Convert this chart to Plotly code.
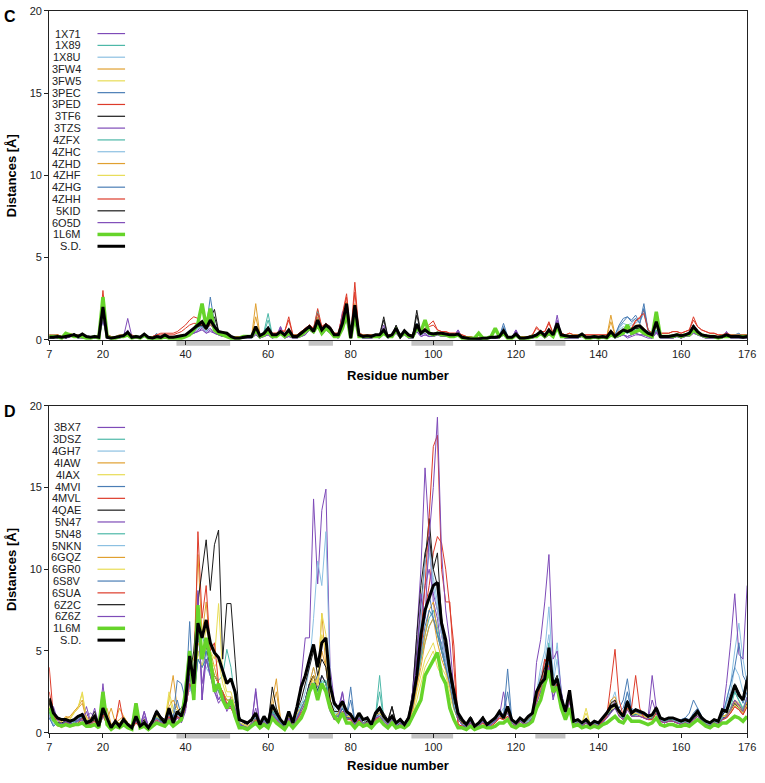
import plotly.graph_objects as go

W, H = 765, 783
residues = list(range(7, 177))
x_ticks = [7, 20, 40, 60, 80, 100, 120, 140, 160, 176]
y_ticks = [0, 5, 10, 15, 20]
sse_regions = [(37.8, 50.8), (69.8, 75.7), (94.7, 104.8), (124.7, 132.0)]

c_names = ["1X71", "1X89", "1X8U", "3FW4", "3FW5", "3PEC", "3PED", "3TF6", "3TZS",
           "4ZFX", "4ZHC", "4ZHD", "4ZHF", "4ZHG", "4ZHH", "5KID", "6O5D"]
d_names = ["3BX7", "3DSZ", "4GH7", "4IAW", "4IAX", "4MVI", "4MVL", "4QAE", "5N47",
           "5N48", "5NKN", "6GQZ", "6GR0", "6S8V", "6SUA", "6Z2C", "6Z6Z"]
palette = ["#7E4BB8", "#4DB8A8", "#8CC0E2", "#E0A030", "#E8DC55", "#4A7DB5", "#DD3B2A", "#1a1a1a"]

# ---------------- Panel C (values in Å, residues 7..176) ----------------
c_1X71 = [.1,.15,.1,.2,.1,.15,.3,.2,.1,.15, .1,.1,.1,1.4,.1,.1,.1,.15,.2,1.3, .2,.1,.1,.3,.1,.1,.2,.1,.1,.1,
          .1,.1,.1,.2,.3,.4,.6,.8,.5,.7, .4,.3,.2,.2,.1,.1,.1,.1,.1,.1, .3,.1,.2,.3,.1,.2,.8,.1,.2,.1,
          .1,.2,.3,.6,.4,.9,.3,.6,.4,.2, .1,.6,1.2,.1,1.1,.2,.1,.1,.1,.2, .1,.4,.1,.2,.4,.1,.3,.1,.1,.5,
          .2,.3,.2,.2,.3,.2,.2,.2,.2,.6, .1,.1,0,0,0,.1,.1,.1,.1,.1, .3,.1,.1,.6,.1,.1,.1,.1,.2,.3,
          .1,.3,.2,.8,.2,.1,.1,.1,.1,.2, .1,.1,.1,.1,.1,.1,.3,.1,.2,.3, .2,.3,.4,.3,.3,.2,.1,.5,.1,.1,
          .1,.1,.2,.1,.2,.2,.4,.3,.2,.1, .1,.1,.1,.1,.5,.1,.1,.1,.1,.1]
c_1X89 = [.2,.1,.2,.1,.2,.3,.2,.1,.2,.1, .1,.2,.1,1.2,.2,.1,.1,.1,.2,.3, .1,.2,.1,.2,.1,.1,.1,.2,.1,.1,
          .1,.2,.2,.3,.4,.6,.7,1.0,.6,1.1, .6,.4,.3,.3,.2,.1,.1,.1,.2,.2, .6,.2,.5,1.6,.3,.2,.4,.3,.4,.2,
          .2,.3,.5,.9,.6,1.8,.5,1.0,.7,.3, .2,.8,1.8,.1,1.6,.3,.1,.2,.2,.3, .2,.5,.2,.3,.6,.2,.4,.2,.2,.8,
          .3,.5,.4,.3,.4,.3,.3,.3,.2,.3, .1,.1,0,0,.1,.1,.1,.1,.1,.2, .4,.1,.1,.3,.1,.1,.1,.2,.3,.5,
          .2,.6,.3,1.0,.3,.2,.2,.2,.2,.3, .1,.1,.2,.1,.2,.1,.5,.2,.4,.5, .4,.6,.6,.7,.5,.4,.2,.6,.2,.2,
          .2,.2,.3,.2,.3,.3,.7,.4,.3,.2, .2,.2,.1,.2,.2,.2,.2,.2,.2,.3]
c_1X8U = [.1,.2,.1,.1,.2,.2,.2,.2,.3,.1, .1,.1,.1,1.6,.2,.1,.1,.2,.2,.3, .1,.1,.2,.3,.1,.1,.1,.1,.3,.1,
          .1,.1,.2,.2,.4,.5,.8,.9,.5,1.0, .7,.4,.4,.3,.2,.1,.1,.1,.2,.1, .5,.2,.3,.8,.2,.3,.5,.3,.5,.2,
          .2,.3,.5,.7,.4,1.1,.5,.8,.6,.3, .3,.9,1.8,.1,1.7,.2,.2,.2,.2,.3, .2,.5,.2,.3,.5,.2,.4,.3,.2,.7,
          .4,.5,.3,.3,.4,.4,.3,.3,.3,.3, .1,.1,.1,0,0,.1,.1,.1,.1,.2, .6,.1,.1,.3,.1,.1,.1,.2,.2,.4,
          .2,.5,.2,.8,.2,.2,.2,.2,.2,.3, .2,.1,.2,.1,.2,.2,.5,.2,.6,.8, .7,.9,1.0,1.2,1.9,.5,.3,.8,.2,.2,
          .2,.2,.3,.2,.3,.4,.9,.5,.3,.3, .2,.2,.2,.2,.3,.2,.3,.3,.2,.2]
c_3FW4 = [.2,.2,.3,.2,.3,.4,.3,.2,.4,.2, .2,.2,.2,1.9,.3,.1,.2,.2,.2,.4, .2,.2,.2,.4,.2,.1,.2,.2,.3,.2,
          .2,.2,.3,.3,.4,.6,.9,1.0,.7,1.2, .8,.5,.5,.4,.2,.1,.1,.2,.2,.2, 2.2,.3,.4,.7,.3,.3,.5,.3,.6,.2,
          .2,.4,.6,.8,.5,1.4,.6,.9,.7,.3, .3,1.1,2.3,.1,2.2,.3,.2,.2,.2,.3, .3,.6,.2,.3,.7,.2,.5,.3,.2,.9,
          .4,.6,.4,.4,.4,.4,.4,.3,.3,.4, .2,.1,.1,.1,.1,.1,.1,.1,.2,.2, .5,.2,.2,.4,.1,.1,.2,.2,.3,.5,
          .3,.6,.3,1.0,.3,.2,.2,.2,.2,.3, .2,.2,.2,.2,.2,.2,1.5,.3,.5,.6, .5,.6,.9,.9,.7,.4,.3,.9,.2,.2,
          .2,.3,.3,.3,.3,.4,.8,.5,.3,.3, .2,.2,.2,.2,.3,.2,.2,.2,.2,.2]
c_3FW5 = [.2,.2,.2,.1,.4,.3,.2,.2,.2,.2, .1,.2,.1,1.7,.2,.1,.1,.2,.2,.3, .1,.2,.1,.3,.2,.1,.1,.1,.2,.1,
          .1,.2,.2,.3,.4,.6,.8,.9,.6,1.1, .7,.5,.4,.3,.2,.1,.1,.1,.2,.2, .7,.2,.4,.6,.3,.3,.5,.3,.5,.2,
          .2,.4,.5,.7,.5,1.1,.5,.8,.6,.3, .3,.9,1.9,.1,1.8,.3,.2,.2,.2,.3, .3,.6,.2,.3,.6,.2,.5,.3,.2,.8,
          .4,.5,.4,.3,.4,.4,.3,.3,.3,.3, .1,.1,.1,.1,.1,.1,.1,.1,.2,.2, .5,.1,.1,.3,.1,.1,.1,.2,.3,.4,
          .2,.5,.3,.9,.3,.2,.2,.2,.2,.3, .2,.1,.2,.1,.2,.1,.6,.2,.4,.5, .5,.6,.8,.8,.6,.4,.3,.8,.2,.2,
          .2,.3,.3,.2,.3,.4,.8,.5,.3,.3, .2,.2,.2,.2,.3,.2,.2,.2,.2,.2]
c_3PEC = [.2,.1,.2,.1,.2,.2,.2,.3,.2,.1, .2,.1,.2,1.8,.2,.1,.1,.2,.2,.3, .1,.2,.1,.2,.2,.1,.4,.1,.2,.1,
          .1,.2,.2,.3,.5,.6,1.0,.8,.7,2.6, 1.0,.4,.4,.3,.2,.1,.1,.1,.2,.2, .6,.2,.4,.8,.3,.3,.5,.3,.5,.2,
          .2,.4,.6,.8,.5,1.3,.6,1.0,.8,.3, .3,1.0,2.0,.1,1.9,.3,.2,.2,.3,.3, .3,.6,.2,.3,.7,.2,.5,.3,.2,1.0,
          .4,.6,.4,.4,.4,.4,.3,.3,.3,.3, .1,.1,.1,.1,.1,.1,.1,.1,.1,.2, 1.0,.2,.1,.4,.1,.1,.1,.2,.3,.5,
          .3,.6,.3,1.0,.3,.2,.2,.2,.2,.3, .2,.2,.2,.1,.2,.2,.4,.3,.8,1.1, 1.4,1.2,1.5,1.0,2.2,.6,.3,1.0,.2,.2,
          .2,.3,.3,.3,.3,.4,.9,.5,.3,.3, .2,.2,.2,.2,.3,.2,.3,.3,.2,.2]
c_3PED = [.3,.3,.3,.2,.2,.3,.3,.3,.2,.2, .2,.2,.3,3.0,.3,.2,.2,.3,.3,.3, .3,.2,.2,.3,.2,.2,.3,.4,.4,.4,
          .4,.5,.7,.9,1.2,1.4,1.3,1.0,.8,1.0, .7,.5,.4,.3,.2,.2,.2,.2,.2,.2, .6,.3,.4,.6,.4,.4,.6,.5,1.4,.3,
          .3,.5,.7,.9,.7,1.9,.8,1.0,.8,.4, .4,1.7,2.8,.2,3.5,.4,.3,.3,.3,.3, .3,.5,.3,.3,.6,.3,.4,.3,.3,.8,
          .5,.7,.9,1.15,.6,.5,.5,.4,.4,.4, .3,.2,.2,.1,.1,.1,.1,.2,.2,.2, .4,.2,.2,.4,.2,.2,.2,.3,.8,.5,
          .5,1.1,.4,1.0,.4,.3,.4,.3,.3,.3, .3,.3,.3,.3,.3,.3,.6,.3,.5,.6, .6,.7,1.2,1.3,1.8,.6,.4,.9,.4,.4,
          .4,.5,.5,.4,.5,.6,1.4,.8,.6,.5, .4,.4,.3,.3,.4,.3,.3,.3,.3,.3]
c_3TF6 = [.1,.2,.1,.2,.1,.2,.4,.2,.2,.1, .1,.2,.1,1.9,.2,.1,.1,.2,.2,.3, .1,.2,.1,.3,.1,.1,.2,.1,.2,.1,
          .1,.2,.2,.3,.4,.6,.8,1.0,.6,1.3, 1.85,.5,.4,.3,.2,.1,.1,.1,.2,.2, .7,.2,.4,.6,.3,.3,.4,.3,.5,.2,
          .2,.4,.5,.7,.5,1.1,.5,.8,.6,.3, .3,1.0,2.0,.1,2.0,.3,.2,.2,.2,.3, .3,1.4,.2,.3,.9,.2,.6,.3,.2,1.8,
          .4,.6,.4,.3,.4,.4,.3,.3,.3,.3, .1,.1,.1,0,0,.1,.1,.1,.1,.1, .5,.1,.1,.3,.1,.1,.1,.2,.2,.4,
          .2,.5,.3,.9,.3,.2,.2,.2,.2,.3, .1,.1,.2,.1,.2,.1,.5,.2,.4,.5, .9,.6,.7,.7,.5,.4,.3,1.0,.2,.2,
          .2,.2,.3,.2,.3,.3,.8,.4,.3,.2, .2,.2,.1,.2,.2,.2,.2,.2,.2,.2]
c_3TZS = [.1,.1,.2,.1,.3,.2,.2,.1,.2,.1, .1,.1,.1,1.3,.1,.1,.1,.1,.2,.2, .1,.1,.1,.2,.1,.1,.1,.1,.1,.1,
          .1,.1,.1,.2,.3,.4,.5,.6,.4,.5, .4,.3,.2,.2,.1,.1,.1,.1,.1,.1, .4,.1,.3,.4,.2,.2,.8,.2,.3,.1,
          .1,.3,.5,.7,.4,1.0,.4,.7,.5,.2, .2,1.7,1.5,.1,1.4,.2,.1,.1,.1,.2, .2,.9,.1,.2,.5,.1,.3,.2,.1,.6,
          .3,.4,.2,.2,.3,.3,.2,.2,.2,.6, .1,.1,0,0,0,.1,.1,.1,.1,.1, .3,.1,.1,.6,.1,.1,.1,.1,.2,.4,
          .2,.4,.2,1.5,.2,.1,.1,.1,.1,.2, .1,.1,.1,.1,.1,.1,.3,.1,.2,.3, .1,.2,.3,.3,.2,.1,.1,.4,.1,.1,
          .1,.1,.2,.1,.2,.2,.5,.3,.2,.1, .1,.1,.1,.1,.5,.1,.1,.1,.1,.1]
c_4ZFX = [.2,.2,.1,.2,.2,.3,.2,.2,.2,.1, .1,.2,.1,1.5,.2,.1,.1,.2,.2,.3, .1,.2,.1,.2,.1,.1,.1,.2,.2,.1,
          .1,.2,.2,.3,.4,.5,.7,.9,.6,1.0, .6,.4,.3,.3,.2,.1,.1,.1,.2,.2, .6,.2,.4,1.2,.3,.2,.4,.3,.4,.2,
          .2,.3,.5,.8,.6,1.7,.5,.9,.7,.3, .2,.8,1.7,.1,1.5,.3,.1,.2,.2,.3, .2,.5,.2,.3,.6,.2,.4,.2,.2,.7,
          .3,.5,.4,.3,.4,.3,.3,.3,.2,.3, .1,.1,0,0,.1,.1,.1,.1,.1,.2, .4,.1,.1,.3,.1,.1,.1,.2,.3,.4,
          .2,.5,.3,1.0,.3,.2,.2,.2,.2,.3, .1,.1,.2,.1,.2,.1,.5,.2,.4,.5, .4,.5,.6,.7,.5,.4,.2,.6,.2,.2,
          .2,.2,.3,.2,.3,.3,.7,.4,.3,.2, .2,.2,.1,.2,.2,.2,.2,.2,.2,.3]
c_4ZHC = [.2,.1,.2,.1,.2,.2,.3,.2,.2,.2, .1,.1,.1,1.5,.2,.1,.1,.2,.2,.3, .1,.1,.2,.2,.1,.1,.1,.1,.2,.1,
          .1,.1,.2,.2,.4,.5,.7,.8,.5,.9, .6,.4,.4,.3,.2,.1,.1,.1,.2,.1, .5,.2,.3,.7,.2,.3,.5,.3,.5,.2,
          .2,.3,.5,.7,.4,1.0,.5,.8,.6,.3, .3,.9,1.7,.1,1.6,.2,.2,.2,.2,.3, .2,.5,.2,.3,.5,.2,.4,.3,.2,.7,
          .4,.5,.3,.3,.4,.4,.3,.3,.3,.3, .1,.1,.1,0,0,.1,.1,.1,.1,.2, .5,.1,.1,.3,.1,.1,.1,.2,.2,.4,
          .2,.5,.2,.8,.2,.2,.2,.2,.2,.3, .2,.1,.2,.1,.2,.2,.5,.2,.7,1.0, .9,1.0,1.3,1.1,1.6,.5,.3,.8,.2,.2,
          .2,.2,.3,.2,.3,.4,.9,.5,.3,.3, .2,.2,.2,.2,.3,.2,.3,.3,.2,.2]
c_4ZHD = [.2,.2,.2,.2,.3,.3,.3,.2,.3,.2, .2,.2,.2,1.7,.3,.1,.2,.2,.2,.3, .2,.2,.2,.3,.2,.1,.2,.2,.2,.2,
          .2,.2,.3,.3,.4,.6,.8,.9,.6,1.1, .7,.5,.4,.4,.2,.1,.1,.2,.2,.2, 1.4,.3,.4,.6,.3,.3,.5,.3,.6,.2,
          .2,.4,.6,.8,.5,1.3,.6,.9,.7,.3, .3,1.0,2.1,.1,2.0,.3,.2,.2,.2,.3, .3,.6,.2,.3,.7,.2,.5,.3,.2,.9,
          .4,.6,.4,.4,.4,.4,.4,.3,.3,.4, .2,.1,.1,.1,.1,.1,.1,.1,.2,.2, .5,.2,.2,.4,.1,.1,.2,.2,.3,.5,
          .3,.6,.3,1.0,.3,.2,.2,.2,.2,.3, .2,.2,.2,.2,.2,.2,1.1,.3,.5,.6, .5,.6,.8,.8,.7,.4,.3,.9,.2,.2,
          .2,.3,.3,.3,.3,.4,.8,.5,.3,.3, .2,.2,.2,.2,.3,.2,.2,.2,.2,.2]
c_4ZHF = [.2,.2,.2,.2,.4,.3,.2,.2,.2,.2, .1,.2,.1,1.6,.2,.1,.1,.2,.2,.3, .1,.2,.1,.3,.2,.1,.1,.1,.2,.1,
          .1,.2,.2,.3,.4,.6,.8,.9,.6,1.0, .7,.5,.4,.3,.2,.1,.1,.1,.2,.2, .6,.2,.4,.6,.3,.3,.5,.3,.5,.2,
          .2,.4,.5,.7,.5,1.1,.5,.8,.6,.3, .3,.9,1.8,.1,1.7,.3,.2,.2,.2,.3, .3,.6,.2,.3,.6,.2,.5,.3,.2,.8,
          .4,.5,.4,.3,.4,.4,.3,.3,.3,.3, .1,.1,.1,.1,.1,.1,.1,.1,.2,.2, .5,.1,.1,.3,.1,.1,.1,.2,.3,.4,
          .2,.5,.3,.9,.3,.2,.2,.2,.2,.3, .2,.1,.2,.1,.2,.1,.6,.2,.4,.5, .5,.6,.8,.8,.6,.4,.3,.8,.2,.2,
          .2,.3,.3,.2,.3,.4,.8,.5,.3,.3, .2,.2,.2,.2,.3,.2,.2,.2,.2,.2]
c_4ZHG = [.2,.1,.2,.1,.2,.2,.2,.2,.2,.1, .2,.1,.2,1.7,.2,.1,.1,.2,.2,.3, .1,.2,.1,.2,.2,.1,.3,.1,.2,.1,
          .1,.2,.2,.3,.5,.6,.9,.8,.7,1.6, .9,.4,.4,.3,.2,.1,.1,.1,.2,.2, .6,.2,.4,.7,.3,.3,.5,.3,.5,.2,
          .2,.4,.6,.8,.5,1.2,.6,1.0,.8,.3, .3,1.0,1.9,.1,1.8,.3,.2,.2,.3,.3, .3,.6,.2,.3,.7,.2,.5,.3,.2,.9,
          .4,.6,.4,.4,.4,.4,.3,.3,.3,.3, .1,.1,.1,.1,.1,.1,.1,.1,.1,.2, .8,.2,.1,.4,.1,.1,.1,.2,.3,.5,
          .3,.6,.3,1.0,.3,.2,.2,.2,.2,.3, .2,.2,.2,.1,.2,.2,.4,.3,.9,1.3, 1.4,1.1,1.3,1.0,1.9,.6,.3,.9,.2,.2,
          .2,.3,.3,.3,.3,.4,.9,.5,.3,.3, .2,.2,.2,.2,.3,.2,.3,.4,.2,.2]
c_4ZHH = [.3,.2,.3,.2,.2,.3,.3,.2,.2,.2, .2,.2,.2,2.6,.3,.2,.2,.2,.3,.3, .2,.2,.2,.3,.2,.2,.3,.3,.3,.3,
          .3,.4,.5,.7,.9,1.0,1.0,.9,.7,.9, .7,.5,.4,.3,.2,.2,.2,.2,.2,.2, .6,.3,.4,.6,.4,.4,.6,.5,1.2,.3,
          .3,.5,.7,.9,.7,1.6,.8,1.0,.8,.4, .4,1.6,2.6,.2,2.9,.4,.3,.3,.3,.3, .3,.5,.3,.3,.6,.3,.4,.3,.3,.8,
          .5,.6,.8,.9,.6,.5,.5,.4,.4,.4, .3,.2,.2,.1,.1,.1,.1,.2,.2,.2, .4,.2,.2,.4,.2,.2,.2,.3,.7,.5,
          .5,1.0,.4,1.0,.4,.3,.4,.3,.3,.3, .3,.3,.3,.3,.3,.3,.6,.3,.5,.6, .6,.7,1.1,1.4,1.6,.6,.4,.9,.4,.4,
          .4,.5,.5,.4,.5,.6,1.2,.8,.6,.5, .4,.4,.3,.3,.4,.3,.3,.3,.3,.3]
c_5KID = [.1,.2,.1,.2,.1,.2,.3,.2,.2,.1, .1,.2,.1,1.8,.2,.1,.1,.2,.2,.3, .1,.2,.1,.3,.1,.1,.2,.1,.2,.1,
          .1,.2,.2,.3,.4,.6,.8,.9,.6,1.1, 1.4,.5,.4,.3,.2,.1,.1,.1,.2,.2, .7,.2,.4,.6,.3,.3,.4,.3,.5,.2,
          .2,.4,.5,.7,.5,1.1,.5,.8,.6,.3, .3,1.0,2.1,.1,2.0,.3,.2,.2,.2,.3, .3,1.2,.2,.3,.8,.2,.6,.3,.2,1.5,
          .4,.6,.4,.3,.4,.4,.3,.3,.3,.3, .1,.1,.1,0,0,.1,.1,.1,.1,.1, .5,.1,.1,.3,.1,.1,.1,.2,.2,.4,
          .2,.5,.3,.9,.3,.2,.2,.2,.2,.3, .1,.1,.2,.1,.2,.1,.5,.2,.4,.5, .8,.6,.7,.7,.5,.4,.3,1.0,.2,.2,
          .2,.2,.3,.2,.3,.3,.8,.4,.3,.2, .2,.2,.1,.2,.2,.2,.2,.2,.2,.2]
c_6O5D = [.1,.1,.1,.2,.1,.2,.2,.1,.1,.1, .1,.1,.1,1.2,.1,.1,.1,.1,.2,.6, .1,.1,.1,.2,.1,.1,.1,.1,.1,.1,
          .1,.1,.1,.2,.3,.4,.5,.7,.4,.6, .4,.3,.2,.2,.1,.1,.1,.1,.1,.1, .3,.1,.2,.3,.1,.2,.7,.1,.2,.1,
          .1,.2,.3,.6,.4,.9,.3,.6,.4,.2, .1,1.4,1.3,.1,1.2,.2,.1,.1,.1,.2, .1,.5,.1,.2,.4,.1,.3,.1,.1,.5,
          .2,.3,.2,.2,.3,.2,.2,.2,.2,.5, .1,.1,0,0,0,.1,.1,.1,.1,.1, .3,.1,.1,.5,.1,.1,.1,.1,.2,.3,
          .1,.3,.2,1.2,.2,.1,.1,.1,.1,.2, .1,.1,.1,.1,.1,.1,.3,.1,.2,.3, .2,.3,.4,.3,.3,.2,.1,.5,.1,.1,
          .1,.1,.2,.1,.2,.2,.4,.3,.2,.1, .1,.1,.1,.1,.4,.1,.1,.1,.1,.1]
c_1L6M = [.2,.2,.2,.1,.4,.3,.2,.2,.2,.1, .1,.2,.1,2.6,.2,.1,.1,.2,.2,.3, .1,.2,.1,.3,.1,.1,.1,.1,.2,.1,
          .1,.1,.1,.2,.3,.6,1.0,2.2,.8,1.9, .6,.4,.3,.2,.1,.1,.1,.2,.2,.2, .6,.2,.3,.5,.2,.2,.4,.2,.4,.2,
          .2,.3,.5,.7,.5,.9,.4,.7,.5,.2, .2,.7,1.6,.1,1.5,.2,.2,.2,.2,.2, .2,.4,.2,.2,.6,.2,.4,.2,.2,.7,
          .5,1.2,.4,.3,.4,.3,.3,.2,.2,.3, .1,.1,.1,.1,.4,.1,.1,.2,.7,.2, .4,.1,.1,.3,.1,.1,.1,.2,.2,.4,
          .2,.4,.2,.8,.2,.2,.2,.2,.2,.3, .1,.1,.2,.1,.2,.1,.3,.2,.3,.4, .9,.4,.5,.6,.4,.3,.2,1.7,.2,.2,
          .2,.2,.3,.2,.3,.3,.6,.4,.3,.2, .2,.2,.1,.2,.2,.2,.2,.2,.2,.2]
c_SD = [.15,.15,.2,.15,.2,.25,.3,.2,.35,.2, .15,.2,.15,2.0,.15,.1,.15,.2,.25,.45, .15,.2,.15,.35,.15,.1,.2,.15,.3,.15,
        .15,.2,.25,.3,.5,.7,.85,1.1,.7,1.2, .8,.5,.45,.4,.2,.1,.1,.15,.2,.2, .8,.25,.4,.7,.3,.3,.5,.3,.6,.2,
        .2,.4,.6,.8,.5,1.2,.6,.9,.7,.3, .3,1.0,2.2,.1,2.1,.3,.2,.25,.2,.3, .3,.6,.2,.3,.7,.2,.55,.3,.2,.95,
        .4,.6,.4,.35,.4,.4,.35,.3,.3,.35, .15,.1,.05,.05,.05,.1,.1,.15,.15,.2, .55,.15,.15,.35,.1,.1,.15,.2,.3,.5,
        .25,.6,.3,1.0,.3,.25,.2,.2,.2,.35, .15,.15,.2,.15,.2,.15,.5,.2,.4,.6, .5,.6,.8,.85,.6,.4,.3,1.1,.2,.2,
        .2,.25,.3,.25,.3,.4,.8,.5,.3,.25, .2,.2,.15,.2,.3,.2,.2,.2,.15,.2]

# ---------------- Panel D ----------------
d_3BX7 = [1.0,1.5,.6,.5,.8,.6,.5,.9,.8,1.6, .7,1.5,.5,1.2,.6,.3,.5,.4,.9,.5, .3,.8,.4,1.3,.3,.5,.8,.7,.4,1.0,
          .5,1.0,.8,1.5,3.5,2.5,8.7,2.0,5.5,4.0, 3.0,2.0,2.5,1.5,2.2,1.8,.5,.4,.3,.6, 1.5,.3,.6,.4,1.2,.9,.6,.3,1.0,.4,
          1.0,1.5,2.0,3.0,3.5,2.5,3.5,3.0,1.5,1.0, 1.0,2.5,.8,.9,.5,1.0,.6,.6,.4,.9, 1.0,.7,.5,.8,.4,.6,.4,.6,2.5,6.0,
          10.0,16.2,12.0,8.0,7.0,5.0,4.0,3.0,1.5,.8, .5,.3,.6,.3,.4,.7,.4,.5,.7,1.0, 2.5,1.2,.6,.4,.7,.5,.6,.8,2.0,2.5,
          3.0,4.0,2.0,3.0,1.5,1.0,2.0,.5,.6,.4, .6,.3,.5,.4,.6,.9,1.2,2.0,1.0,.8, 1.5,1.0,1.2,1.0,.9,.8,.9,1.2,.7,.6,
          .7,.7,.6,.5,.6,.5,.8,1.0,.7,.5, .4,.6,.5,.8,1.0,1.5,2.0,1.6,1.2,2.0]
d_3DSZ = [1.5,1.0,.7,.6,.6,.5,.6,.8,.9,.5, .5,.8,.3,1.2,.7,.2,.5,.3,.6,.4, .2,.8,.3,.5,.2,.5,1.0,.7,.5,1.2,
          .5,1.0,.8,1.5,3.8,2.5,5.5,6.0,5.0,4.5, 3.5,3.0,2.5,2.0,2.0,1.5,.6,.5,.4,.6, .9,.4,.8,.5,1.4,1.0,.6,.4,1.0,.5,
          1.2,1.8,2.0,3.0,3.5,2.5,3.0,3.2,2.0,1.2, 1.2,1.5,1.0,.8,.5,.9,.6,.7,.4,1.0, 3.5,.8,.6,.8,.5,.6,.4,.7,1.5,3.0,
          4.5,6.0,7.0,7.5,6.5,5.0,4.5,3.0,2.0,.9, .6,.4,.7,.3,.5,.7,.4,.6,.7,1.0, .8,1.2,.7,.5,.7,.6,.8,1.0,2.0,2.8,
          3.0,4.5,2.5,2.8,1.8,1.0,2.0,.6,.6,.5, .6,.4,.6,.5,.7,1.0,1.3,1.5,1.1,.9, 1.6,1.0,1.1,1.2,1.0,.9,.9,1.3,.8,.7,
          .8,.7,.7,.6,.7,.6,.9,1.2,.8,.6, .5,.7,.6,1.5,1.2,1.8,2.5,2.0,1.5,2.2]
d_4GH7 = [1.2,.5,.8,.4,.6,.7,.5,.7,1.0,.5, .6,.8,.3,1.0,.8,.3,.6,.4,.7,.3, .3,.7,.3,.5,.3,.6,.9,.6,.5,1.1,
          .6,1.2,1.0,3.2,2.5,3.0,6.0,5.0,4.5,4.0, 3.0,2.5,2.0,1.8,1.5,1.2,.6,.4,.4,.5, 1.0,.4,.7,.5,1.3,.9,.6,.4,.9,.4,
          1.0,1.5,2.0,3.0,4.0,3.0,3.5,3.0,1.8,1.0, 1.1,1.6,1.0,1.0,.5,1.2,.6,.8,.4,1.0, 1.0,.7,.5,.8,.4,.7,.4,.7,1.8,3.5,
          6.0,9.0,11.0,9.5,8.0,6.0,5.0,3.5,2.0,.8, .5,.4,.7,.3,.4,.7,.4,.5,.8,1.1, 1.5,1.3,.7,.5,.8,.6,.7,1.0,2.5,4.0,
          5.0,7.7,3.5,5.5,2.5,1.2,2.5,.6,.7,.5, .7,.4,.6,.5,.8,1.0,1.8,2.5,1.2,1.0, 2.5,1.3,1.2,1.1,1.0,.9,1.0,1.4,.8,.7,
          .9,.8,.7,.6,.7,.6,1.0,1.4,.9,.6, .5,.7,.6,1.0,2.0,3.0,5.0,6.7,4.5,3.0]
d_4IAW = [2.0,1.0,.8,.7,1.0,.9,1.2,1.5,1.8,.8, .9,.7,.5,1.3,.8,1.5,.6,.8,1.0,.6, .4,1.2,.5,.8,.4,.8,1.0,.9,.7,2.0,
          3.5,1.5,1.2,2.0,4.0,4.5,10.9,6.0,8.0,5.0, 4.0,3.0,2.5,2.0,2.0,1.5,.6,.5,.4,.5, .8,.5,.9,.6,2.0,3.3,.8,.4,1.0,.5,
          1.2,1.5,2.0,3.0,4.0,3.0,7.3,4.0,2.0,1.0, 1.2,1.8,1.0,1.0,.6,1.0,.6,.8,.4,1.0, 1.2,.8,.6,.9,.5,.7,.5,.8,1.5,3.0,
          4.5,6.0,7.5,8.0,6.0,5.0,4.0,3.0,1.5,.8, .6,.4,.8,.4,.5,.8,.5,.6,.8,1.0, .9,1.4,.8,.6,.9,.6,.8,1.2,2.2,3.0,
          3.8,4.5,2.8,3.5,2.0,1.2,2.2,.7,.8,.6, .8,.5,.7,.6,.9,1.2,2.0,2.2,1.3,1.0, 1.6,1.2,1.3,1.2,1.1,1.0,1.0,1.5,.9,.8,
          .9,.9,.8,.7,.8,.7,1.0,1.3,.9,.7, .6,.8,.7,1.0,1.1,1.5,2.0,1.8,1.4,2.0]
d_4IAX = [1.8,.9,.8,.7,.9,.8,1.3,1.6,2.4,.8, .8,.9,.5,1.6,.8,.5,.7,.6,.9,.6, .4,1.0,.5,.8,.4,.8,1.1,.8,.7,2.5,
          1.5,1.4,1.0,1.8,4.0,2.0,5.0,4.5,6.5,5.0, 4.5,7.9,3.5,2.5,2.5,1.5,.6,.5,.4,.6, .8,.4,.8,.6,1.5,1.5,.7,.4,1.0,.5,
          1.2,1.5,2.0,2.5,3.5,3.0,7.3,6.0,2.0,1.0, 1.0,2.0,1.0,1.0,.6,1.0,.6,.8,.4,1.0, 1.2,.8,.6,.9,.5,.7,.5,.8,1.2,2.5,
          3.5,4.5,5.0,5.5,4.5,4.0,3.5,2.5,1.5,.8, .6,.4,.8,.4,.5,.8,.5,.6,.8,1.0, .9,1.2,.8,.6,.9,.6,.8,1.1,2.0,2.8,
          3.5,4.0,2.5,3.0,1.8,1.1,2.0,.7,.8,.6, 1.5,.5,.7,.6,.9,1.1,1.5,1.8,1.2,1.0, 1.5,1.1,1.2,1.1,1.0,.9,1.0,1.4,.9,.8,
          .9,.9,.8,.7,.8,.7,1.0,1.2,.9,.7, .6,.8,.7,1.0,1.1,1.4,1.8,1.6,1.3,1.8]
d_4MVI = [1.0,.4,.6,.5,.7,.6,.8,.7,1.0,.5, .6,.7,.4,1.0,.7,.3,.6,.4,.8,.4, .3,.8,.4,.6,.3,.6,.9,.7,.6,1.3,
          1.0,3.2,3.0,2.0,6.8,2.0,4.5,4.0,5.0,3.5, 3.0,2.5,2.0,1.5,1.5,1.2,.6,.4,.3,.5, .9,.4,.8,.5,1.2,.9,.6,.4,.9,.4,
          1.0,1.5,2.0,3.0,3.0,3.5,3.0,2.5,1.5,1.0, 1.0,1.5,1.0,2.8,.6,1.0,.6,.8,.4,1.0, 1.2,.8,.6,.9,.5,.7,.5,.8,1.8,3.5,
          5.5,7.0,8.5,7.0,6.0,5.5,4.0,3.0,1.5,.8, .5,.4,.7,.4,.5,.7,.4,.5,.8,1.2, 1.0,3.9,.8,.6,.9,.6,.8,1.1,2.2,3.0,
          3.5,4.5,2.5,3.0,1.8,1.2,2.2,.7,.8,.6, .8,.5,.7,.6,.9,1.2,1.5,1.8,1.5,2.0, 3.3,1.5,1.3,1.2,1.1,1.0,1.0,1.4,.9,.8,
          .9,.9,.8,.8,.9,.8,1.2,1.5,1.0,.7, .6,.8,.7,1.0,1.5,2.0,2.5,2.5,1.8,2.5]
d_4MVL = [4.0,1.0,.5,.3,.6,.5,.4,.6,.8,.4, .5,.6,.3,1.0,.5,.2,.4,.3,.6,.3, .2,.6,.3,.5,.2,.4,.7,.5,.4,.9,
          .5,.9,.7,1.5,3.0,2.5,6.0,5.0,5.5,4.0, 3.0,2.5,2.0,1.5,1.5,1.0,.4,.3,.3,.4, .7,.3,.6,.4,1.0,.8,.5,.3,.8,.3,
          .8,1.2,1.5,2.5,3.0,2.0,3.0,2.5,1.5,.8, .8,1.2,.8,.8,.4,.8,.5,.6,.3,.8, .9,.6,.4,.7,.3,.5,.3,.6,1.5,3.0,
          5.0,7.5,9.0,11.0,12.0,11.6,10.0,7.5,5.3,.5, .4,.3,.6,.3,.4,.6,.3,.4,.6,.9, .8,1.0,.6,.4,.7,.5,.6,.9,1.8,2.5,
          4.5,4.0,2.5,3.0,1.5,1.0,2.0,.5,.6,.4, .6,.4,.5,.4,.7,.9,1.5,2.0,1.0,.8, 1.5,1.0,1.0,1.0,.9,.8,.8,1.2,.7,.6,
          .7,.7,.6,.5,.6,.5,.8,1.0,.7,.5, .4,.6,.5,.8,.9,1.2,1.6,1.4,1.1,1.6]
d_4QAE = [1.5,.8,.6,.5,.6,.5,.6,.7,.9,.5, .6,.8,.3,1.2,.7,.3,.5,.4,.7,.4, .3,.8,.3,.6,.3,.5,1.2,.7,.5,1.3,
          .5,1.0,.8,1.5,3.5,2.5,6.0,5.0,5.5,4.0, 3.5,3.0,2.0,1.8,1.8,1.2,.5,.4,.3,.5, .9,.3,.7,.5,1.3,.9,.6,.3,.9,.4,
          1.0,1.5,2.0,3.0,3.5,2.5,3.5,3.0,1.5,1.0, 1.0,1.5,.9,.9,.5,.9,.6,.7,.4,.9, 1.5,.8,.6,1.6,.4,.6,.4,.7,2.0,5.0,
          8.0,10.5,13.1,10.0,11.0,7.0,5.5,3.5,2.0,.9, .5,.3,.7,.3,.5,.7,.4,.5,.7,1.0, .9,1.2,.7,.5,.7,.6,.8,1.0,2.0,2.8,
          3.5,4.2,2.5,3.0,1.7,1.1,2.3,.6,.7,.5, .7,.4,.6,.5,.8,1.0,1.3,1.5,1.1,.9, 1.6,1.1,1.1,1.1,1.0,.9,.9,1.3,.8,.7,
          .8,.8,.7,.6,.7,.6,.9,1.1,.8,.6, .5,.7,.6,.9,1.0,1.3,1.8,1.5,1.2,1.8]
d_5N47 = [.8,1.2,.7,.5,.9,.6,.5,1.0,.8,1.0, 1.2,1.0,.5,1.5,.6,.3,.6,.4,.8,.5, .3,.8,.4,1.3,.4,.5,.8,.7,.5,1.2,
          .5,1.0,.7,1.5,3.0,2.0,6.5,3.0,4.5,3.5, 2.5,2.0,2.5,1.5,2.0,1.5,.5,.4,.3,.5, 2.7,.4,.8,.5,1.2,.9,.6,.4,1.0,.4,
          1.0,3.3,5.8,5.8,14.3,9.1,13.6,14.9,4.0,2.0, 1.5,2.5,1.0,1.2,.6,1.2,.6,.8,.4,1.0, 1.2,.8,.6,.9,.5,.7,.5,.7,2.0,4.5,
          7.0,9.0,10.0,8.5,7.5,6.0,4.5,3.0,1.5,.8, .5,.4,.6,.3,.5,.7,.4,.5,.8,1.1, 1.2,1.3,.7,.5,.8,.5,.7,1.0,4.3,5.7,
          8.0,10.9,4.5,5.0,2.5,1.2,2.5,.6,.7,.5, .7,.4,.6,.5,.8,1.0,1.5,1.8,1.2,1.0, 1.8,1.2,1.2,1.2,1.0,.9,3.5,1.5,.8,.7,
          .8,.8,.7,.6,.7,.6,1.0,1.3,.9,.6, .5,.7,.6,1.0,3.0,5.5,8.5,4.8,4.5,9.0]
d_5N48 = [1.2,.7,.6,.5,.7,.6,.7,.9,1.0,.6, .6,.9,.4,1.3,.8,.3,.6,.4,.8,.4, .3,1.8,.4,.7,.3,.6,1.0,.8,.6,1.4,
          .7,1.2,1.0,1.6,3.0,2.2,5.0,4.0,4.5,3.8, 3.5,3.2,3.5,5.1,4.0,2.0,.6,.4,.4,.5, .9,.4,.8,.5,1.3,.9,.6,.4,.9,.4,
          1.0,1.5,2.0,2.5,3.0,2.5,3.2,3.0,1.8,1.0, 1.1,1.6,1.0,1.0,.5,1.0,.6,.8,.4,1.0, 2.5,.8,.6,.9,.5,.7,.5,.8,1.6,3.2,
          4.5,5.5,6.5,7.0,6.0,5.0,4.0,3.0,1.8,.8, .5,.4,.7,.4,.5,.7,.4,.5,.8,1.0, .9,1.3,.7,.5,.8,.6,.7,1.0,2.2,3.0,
          3.5,5.5,3.0,3.5,1.9,1.1,2.2,.6,.7,.5, .7,.4,.6,.5,.8,1.0,1.4,1.6,1.1,.9, 1.6,1.1,1.1,1.1,1.0,.9,.9,1.3,.8,.7,
          .8,.8,.7,.6,.7,.6,.9,1.2,.8,.6, .5,.7,.6,.9,1.1,1.5,2.5,2.0,1.4,2.0]
d_5NKN = [.9,.5,.7,.4,.6,.5,.6,.7,.8,.5, .6,.7,.3,1.0,.7,.3,.5,.4,.7,.3, .3,.7,.3,.5,.3,.5,.9,.6,.5,1.1,
          .6,1.1,.9,1.8,3.0,2.2,5.0,4.5,4.0,3.5, 3.0,2.5,2.0,1.7,1.6,1.2,.5,.4,.3,.5, .9,.4,.7,.5,1.2,.9,.6,.4,.9,.4,
          1.0,1.6,2.5,4.0,7.0,10.5,9.0,12.3,3.5,1.5, 1.2,1.6,1.0,1.0,.5,1.0,.6,.8,.4,1.0, 1.0,.7,.5,.8,.4,.7,.4,.7,1.8,4.0,
          7.0,10.5,11.5,9.0,7.5,6.0,4.5,3.0,1.8,.8, .5,.4,.7,.3,.4,.7,.4,.5,.8,1.0, 1.2,1.3,.7,.5,.8,.6,.7,1.0,2.5,3.5,
          4.5,6.0,3.0,4.5,2.2,1.2,2.3,.6,.7,.5, .7,.4,.6,.5,.8,1.0,1.6,2.0,1.2,1.0, 2.0,1.2,1.2,1.1,1.0,.9,1.0,1.4,.8,.7,
          .9,.8,.7,.6,.7,.6,1.0,1.3,.9,.6, .5,.7,.6,1.0,1.8,2.5,4.0,3.5,2.5,2.8]
d_6GQZ = [1.5,1.0,.8,.7,.9,1.0,1.3,1.6,2.0,.9, .9,.8,.5,1.3,1.5,.5,.7,1.5,1.0,.6, .4,1.0,.5,.8,.4,.8,1.1,.9,.7,1.6,
          2.0,1.5,1.2,2.0,3.8,3.0,5.5,5.0,5.5,4.5, 3.5,3.0,2.5,2.0,1.8,1.4,.6,.5,.4,.6, .9,.5,.9,.6,1.6,2.5,.8,.4,1.0,.5,
          1.2,1.5,2.0,2.8,3.5,2.8,5.0,4.0,2.0,1.0, 1.2,1.8,1.0,1.0,.6,1.0,.6,.8,.4,1.0, 1.2,.8,.6,.9,.5,.7,.5,.8,1.4,2.8,
          4.0,5.5,6.5,7.0,5.5,4.5,3.8,2.8,1.5,.8, .6,.4,.8,.4,.5,.8,.5,.6,.8,1.0, .9,1.3,.8,.6,.9,.6,.8,1.1,2.0,2.8,
          3.5,4.2,2.6,3.2,1.9,1.1,2.1,.7,.8,.6, .8,.5,.7,.6,.9,1.1,1.8,2.0,1.2,1.0, 1.5,1.1,1.2,1.1,1.0,.9,1.0,1.4,.9,.8,
          .9,.9,.8,.7,.8,.7,1.1,1.3,.9,.7, .6,.8,.7,1.0,1.1,1.4,1.9,1.7,1.3,1.9]
d_6GR0 = [1.6,.9,.7,.6,.9,.8,1.2,1.5,2.5,.8, .8,.8,.5,1.4,.8,.5,.6,.6,.9,.6, .4,1.0,.5,.8,.4,.8,1.0,.8,.7,2.2,
          1.2,1.3,1.0,1.6,3.5,2.0,5.0,4.0,5.5,4.5, 4.0,4.5,3.0,2.2,2.2,1.4,.6,.5,.4,.6, .8,.4,.8,.6,1.4,1.4,.7,.4,1.0,.5,
          1.2,1.5,2.0,2.4,3.2,3.0,6.0,5.0,2.0,1.0, 1.0,1.9,1.0,1.0,.6,1.0,.6,.8,.4,1.0, 1.2,.8,.6,.9,.5,.7,.5,.8,1.0,2.0,
          3.0,4.0,4.5,5.0,4.0,3.5,3.0,2.2,1.4,.8, .6,.4,.8,.4,.5,.8,.5,.6,.8,1.0, .9,1.2,.8,.6,.9,.6,.8,1.1,1.9,2.6,
          3.2,3.8,2.4,2.8,1.7,1.1,1.9,.7,.8,.6, 1.2,.5,.7,.6,.9,1.1,1.4,1.6,1.1,1.0, 1.4,1.1,1.2,1.1,1.0,.9,1.0,1.3,.9,.8,
          .9,.9,.8,.7,.8,.7,1.0,1.2,.9,.7, .6,.8,.7,1.0,1.0,1.3,1.7,1.5,1.2,1.7]
d_6S8V = [.9,.4,.6,.5,.7,.6,.7,.7,.9,.5, .6,.7,.4,1.0,.7,.3,.6,.4,.8,.4, .3,.8,.4,.6,.3,.6,.9,.7,.6,1.2,
          .9,2.0,1.0,2.5,3.0,2.2,4.5,4.0,4.5,3.5, 3.0,2.5,2.0,1.6,1.6,1.2,.6,.4,.3,.5, .9,.4,.8,.5,1.2,.9,.6,.4,.9,.4,
          1.0,1.5,2.0,2.8,3.0,2.8,3.0,2.5,1.5,1.0, 1.0,1.5,1.0,2.0,.6,1.0,.6,.8,.4,1.0, 1.1,.8,.6,.9,.5,.7,.5,.8,1.6,3.2,
          5.0,6.5,7.5,7.0,6.0,5.0,4.0,3.0,1.5,.8, .5,.4,.7,.4,.5,.7,.4,.5,.8,1.1, 1.0,2.5,.8,.6,.9,.6,.8,1.1,2.1,3.0,
          3.6,4.3,2.5,3.2,1.8,1.2,2.2,.7,.8,.6, .8,.5,.7,.6,.9,1.2,1.5,1.8,1.3,1.5, 2.5,1.4,1.3,1.2,1.1,1.0,1.0,1.4,.9,.8,
          .9,.9,.8,.8,.9,1.2,2.0,1.5,1.0,.7, .6,.8,.7,1.0,2.0,3.0,4.0,5.5,3.5,3.0]
d_6SUA = [2.5,1.2,.4,.4,.6,.5,.5,.6,.9,.5, .6,.7,.3,1.1,.6,.3,.5,2.0,.6,.3, .3,.7,.3,.5,.3,.5,.8,.6,.5,1.0,
          .5,1.0,.8,1.5,3.0,2.5,12.3,7.0,9.0,5.0, 5.5,3.0,2.5,1.8,1.6,1.1,.4,.3,.3,.4, .8,.3,.6,.4,1.1,.8,.5,.3,.8,.3,
          .8,1.3,1.8,2.5,3.0,2.0,3.0,2.5,1.5,.8, .9,1.3,.8,.8,.4,.8,.5,.6,.3,.8, 1.0,.6,.4,.7,.3,.5,.3,.6,1.8,3.5,
          6.0,9.0,13.0,17.5,18.2,10.0,8.0,8.0,4.0,.5, .4,.3,.6,.3,.4,.6,.3,.4,.6,.9, .8,1.0,.6,.4,.7,.5,.6,.9,2.0,3.0,
          4.5,4.0,2.5,3.0,1.5,1.0,2.0,.5,.6,.4, .6,.4,.5,.4,.7,1.0,3.0,5.1,2.0,1.0, 1.5,1.5,3.5,1.5,.9,.8,.8,1.2,.7,.6,
          .7,.7,.6,.5,.6,.5,.8,1.0,.7,.5, .4,.6,.5,.8,.9,1.2,1.6,1.4,1.1,1.6]
d_6Z2C = [1.8,.9,.6,.6,.7,.6,.8,1.0,1.2,.7, .8,1.3,.5,1.6,.8,.3,.7,.5,.9,.5, .3,1.0,.5,.8,.4,.8,1.4,1.0,.8,1.5,
          .8,1.3,1.5,2.0,3.5,5.0,8.0,10.0,11.8,8.7, 11.5,12.4,4.5,7.9,7.9,4.5,1.0,.6,.5,.8, 1.2,.5,1.0,.6,2.8,1.5,.8,.5,1.3,.6,
          1.4,2.0,3.0,4.0,5.0,3.5,4.5,4.0,2.0,1.3, 1.3,1.8,1.2,1.2,.6,1.2,.8,.9,.5,1.3, 1.6,1.2,.8,1.6,.6,.9,.6,1.0,2.5,6.0,
          9.0,11.0,12.0,10.0,9.0,6.5,5.0,3.5,2.0,1.0, .6,.5,1.0,.4,.6,1.0,.5,.7,1.0,1.3, 1.0,1.5,.8,.6,.9,.7,.9,1.2,2.5,3.2,
          4.0,4.8,3.0,3.5,2.0,1.3,2.6,.7,.8,.6, .8,.5,.7,.6,.9,1.2,1.8,2.0,1.4,1.1, 2.0,1.3,1.4,1.3,1.2,1.1,1.1,1.6,.9,.8,
          .9,.9,.8,.7,.8,.7,1.1,1.4,1.0,.7, .6,.8,.7,1.1,1.4,2.0,3.0,2.5,2.0,3.5]
d_6Z6Z = [1.2,1.6,.8,.5,.7,.6,.5,.8,.7,1.3, .6,1.0,.4,3.0,.6,.3,.5,.4,.7,.4, .3,.7,.4,1.0,.3,.5,.7,.6,.4,.9,
          .5,.9,.6,1.3,3.5,2.0,8.5,2.0,4.5,3.5, 2.5,1.8,2.2,1.3,1.8,1.5,.5,.4,.3,.6, 2.5,.3,.7,.4,1.1,.8,.5,.3,.9,.4,
          .9,1.4,1.8,2.5,3.0,2.0,3.0,2.5,1.3,.8, .9,2.0,.8,.9,.5,.9,.5,.6,.4,.9, 1.0,.7,.5,.8,.4,.6,.4,.6,2.5,4.5,
          8.5,7.0,12.0,15.0,19.3,11.0,7.5,5.5,2.5,.8, .5,.3,.6,.3,.4,.7,.4,.5,.7,1.0, 1.0,1.2,.6,.4,.7,.5,.6,.9,1.8,2.5,
          3.2,4.0,2.2,2.8,1.6,1.0,1.9,.5,.6,.4, .6,.3,.5,.4,.6,.9,1.2,1.5,1.0,.8, 1.4,1.0,1.0,1.0,.9,.8,2.0,1.2,.7,.6,
          .7,.7,.6,.5,.6,.5,.8,1.0,.7,.5, .4,.6,.5,.8,1.0,1.4,2.0,1.7,1.3,2.2]
d_1L6M = [1.5,.8,.5,.4,.5,.4,.5,.5,.6,.4, .4,.5,.3,2.5,.5,.2,.4,.3,.5,.3, .2,1.8,.3,.4,.2,.4,.6,.5,.4,.7,
          .4,.6,.8,2.5,5.0,2.0,7.8,4.5,5.8,4.5, 2.5,3.0,2.0,1.5,2.0,1.0,.3,.3,.2,.4, .6,.3,.5,.3,.9,.6,.4,.2,.6,.3,
          .6,.9,1.5,2.5,3.0,2.0,3.0,2.5,1.5,1.0, .7,1.2,.6,.6,.3,.6,.4,.5,.3,.6, .8,.5,.3,.6,.3,.4,.3,.5,1.0,1.5,
          2.0,3.5,4.0,4.5,4.9,3.5,3.0,1.5,.8,.3, .3,.2,.4,.2,.3,.4,.3,.3,.4,.6, .6,.8,.4,.3,.5,.4,.5,.7,1.5,2.0,
          3.0,3.8,2.5,2.8,1.5,.8,1.5,.4,.5,.3, .4,.3,.4,.3,.5,.6,.8,1.0,.7,.6, 1.0,.7,.7,.7,.6,.5,.6,.9,.5,.4,
          .5,.5,.4,.4,.5,.4,.6,.8,.6,.4, .3,.5,.4,.6,.6,.8,1.0,.9,.7,1.0]
d_SD = [2.1,1.2,.9,.8,.8,.7,.8,1.0,1.1,.6, .7,1.0,.4,1.5,.9,.3,.7,.4,.8,.5, .3,1.0,.4,.6,.3,.7,1.3,.9,.6,1.5,
        .6,1.3,1.0,1.9,4.7,3.0,6.7,5.8,6.9,5.5, 4.9,4.6,3.8,3.0,3.3,2.5,.8,.7,.6,.8, 1.2,.5,1.0,.6,1.7,1.2,.8,.5,1.3,.6,
        1.6,2.8,3.5,4.5,5.4,4.0,5.5,5.8,2.9,1.8, 1.5,1.9,1.3,1.1,.7,1.2,.8,.9,.5,1.2, 1.5,1.0,.7,1.0,.6,.8,.5,.9,2.0,3.5,
        6.0,7.5,8.3,9.0,9.2,6.7,5.7,3.8,2.5,1.2, .8,.5,.9,.4,.6,.9,.5,.7,.9,1.3, .9,1.6,.8,.6,.9,.7,1.0,1.2,2.5,3.0,
        3.3,5.2,2.9,3.3,2.1,1.3,2.6,.7,.8,.6, .8,.5,.7,.6,.9,1.2,1.6,1.7,1.3,1.0, 1.9,1.2,1.4,1.3,1.2,1.0,1.1,1.5,.9,.8,
        .9,.9,.8,.7,.8,.7,1.0,1.3,.9,.7, .6,.8,.7,1.4,1.3,2.1,2.9,2.3,2.0,3.2]

c_series = [c_1X71, c_1X89, c_1X8U, c_3FW4, c_3FW5, c_3PEC, c_3PED, c_3TF6, c_3TZS,
            c_4ZFX, c_4ZHC, c_4ZHD, c_4ZHF, c_4ZHG, c_4ZHH, c_5KID, c_6O5D]
d_series = [d_3BX7, d_3DSZ, d_4GH7, d_4IAW, d_4IAX, d_4MVI, d_4MVL, d_4QAE, d_5N47,
            d_5N48, d_5NKN, d_6GQZ, d_6GR0, d_6S8V, d_6SUA, d_6Z2C, d_6Z6Z]
for s in c_series + d_series + [c_1L6M, c_SD, d_1L6M, d_SD]:
    assert len(s) == len(residues), len(s)

GREEN = "#66D42A"
FONT = "Liberation Sans, Arial, sans-serif"
LEG_FONT = "Liberation Sans Narrow, Liberation Sans, Arial, sans-serif"

fig = go.Figure()

def add_panel(series, names, ref_green, ref_sd, xa, ya):
    for k, (vals, nm) in enumerate(zip(series, names)):
        fig.add_trace(go.Scatter(x=residues, y=vals, mode="lines", name=nm, xaxis=xa, yaxis=ya,
                                 line=dict(color=palette[k % 8], width=1), showlegend=False))
    fig.add_trace(go.Scatter(x=residues, y=ref_green, mode="lines", name="1L6M", xaxis=xa, yaxis=ya,
                             line=dict(color=GREEN, width=3.5), showlegend=False))
    fig.add_trace(go.Scatter(x=residues, y=ref_sd, mode="lines", name="S.D.", xaxis=xa, yaxis=ya,
                             line=dict(color="#000000", width=3), showlegend=False))

add_panel(c_series, c_names, c_1L6M, c_SD, "x", "y")
add_panel(d_series, d_names, d_1L6M, d_SD, "x2", "y2")

# geometry (pixels)
XL, XR = 47, 756
panels = [(5, 339), (406, 738)]

def py(p):
    return 1 - p / H

ax_common = dict(showline=True, linecolor="#222", linewidth=1.2, mirror=True, ticks="outside",
                 ticklen=4, tickcolor="#222", showgrid=False, zeroline=False, ticklabeloverflow="allow",
                 tickfont=dict(family=FONT, size=11, color="#222"))
fig.update_layout(
    width=W, height=H, margin=dict(l=0, r=0, t=0, b=0),
    paper_bgcolor="white", plot_bgcolor="white", showlegend=False,
    xaxis=dict(domain=[XL / W, XR / W], anchor="y", range=[7, 176], tickvals=x_ticks, **ax_common),
    yaxis=dict(domain=[py(panels[0][1]), py(panels[0][0])], anchor="x", range=[0, 20], tickvals=y_ticks, **ax_common),
    xaxis2=dict(domain=[XL / W, XR / W], anchor="y2", range=[7, 176], tickvals=x_ticks, **ax_common),
    yaxis2=dict(domain=[py(panels[1][1]), py(panels[1][0])], anchor="x2", range=[0, 20], tickvals=y_ticks, **ax_common),
)

shapes, annos = [], []
for yd in ["y domain", "y2 domain"]:
    xr = "x" if yd.startswith("y ") else "x2"
    for a, b in sse_regions:
        shapes.append(dict(type="rect", xref=xr, yref=yd, x0=a, x1=b, y0=-0.018, y1=-0.002,
                           fillcolor="#C4C4C4", line=dict(width=0), layer="below"))

# custom legends: text on the left, line sample on the right
for names, top in [(c_names, 28), (d_names, 428)]:
    entries = [(n, palette[k % 8], 1.2) for k, n in enumerate(names)] + [("1L6M", GREEN, 3.5), ("S.D.", "#000000", 3)]
    for k, (n, col, w) in enumerate(entries):
        yy = py(top + 12 * k)
        annos.append(dict(x=81 / W, y=yy, xref="paper", yref="paper", text=n, showarrow=False,
                          xanchor="right", yanchor="middle", font=dict(family=LEG_FONT, size=11, color="#222")))
        shapes.append(dict(type="line", xref="paper", yref="paper", x0=96 / W, x1=124 / W, y0=yy, y1=yy,
                           line=dict(color=col, width=w)))

for (t, b), letter, xt in [(panels[0], "C", 375), (panels[1], "D", 771)]:
    annos.append(dict(x=7 / W, y=py(t + 6), xref="paper", yref="paper", text="<b>%s</b>" % letter,
                      showarrow=False, xanchor="center", yanchor="middle",
                      font=dict(family=FONT, size=16, color="#000")))
    annos.append(dict(x=(XL + XR) / 2 / W, y=py(xt), xref="paper", yref="paper", text="<b>Residue number</b>",
                      showarrow=False, xanchor="center", yanchor="middle",
                      font=dict(family=FONT, size=13, color="#000")))
    annos.append(dict(x=8 / W, y=py((t + b) / 2), xref="paper", yref="paper", text="<b>Distances [Å]</b>",
                      showarrow=False, textangle=-90, xanchor="center", yanchor="middle",
                      font=dict(family=FONT, size=13, color="#000")))

fig.update_layout(shapes=shapes, annotations=annos)
# remove the browser's default 8px page margin so the figure sits at the window origin; hide the modebar
fig.write_html("out.html", config={"displayModeBar": False},
               post_script="document.body.style.margin='0';document.body.style.overflow='hidden';")
